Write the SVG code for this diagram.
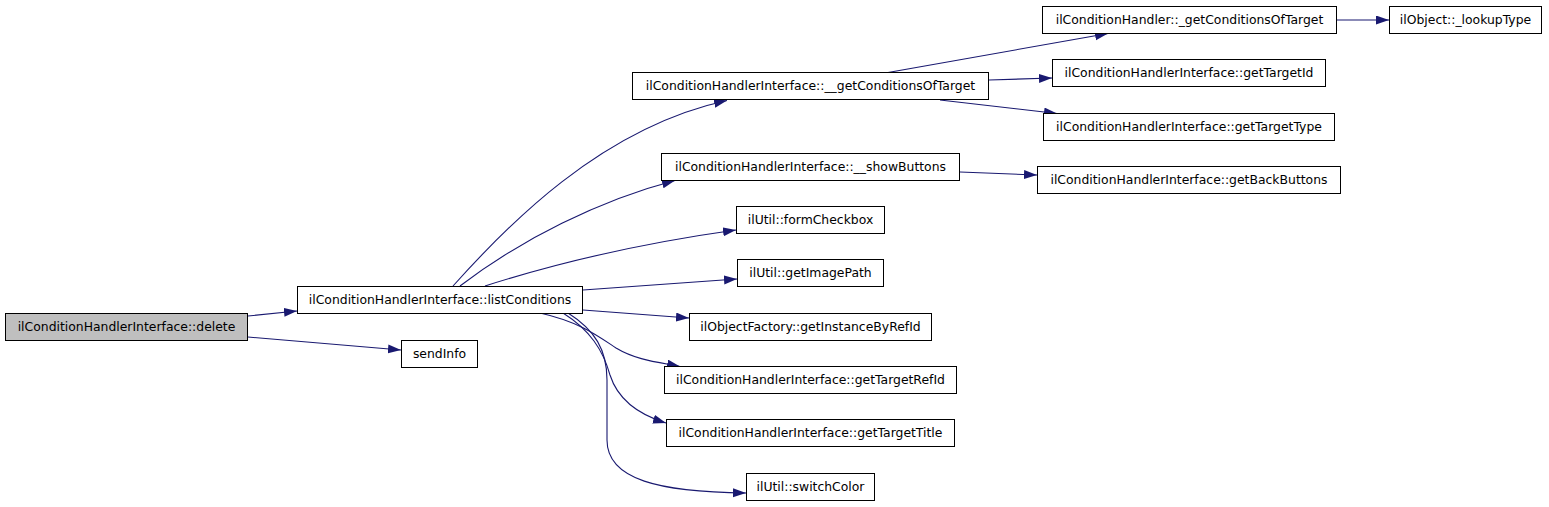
<svg xmlns="http://www.w3.org/2000/svg" width="1549" height="507" viewBox="0 0 1549 507">
<style>
.n rect{fill:#ffffff;stroke:#000000;stroke-width:1}
.n.root rect{fill:#bfbfbf}
.n text{font-family:"DejaVu Sans",sans-serif;font-size:12.4px;fill:#000000;text-anchor:middle}
#edges path{fill:none;stroke:#191970;stroke-width:1.1;marker-end:url(#arr)}
</style>
<defs>
<marker id="arr" markerUnits="userSpaceOnUse" markerWidth="14" markerHeight="10" refX="13" refY="4.5" orient="auto">
<path d="M0,0 L13,4.5 L0,9 z" fill="#191970"/>
</marker>
</defs>
<rect width="1549" height="507" fill="#ffffff"/>
<g id="edges">
<path d="M248,316 L297,311"/>
<path d="M248,337 L401,350"/>
<path d="M453,286 C505,228 600,128 727,100.5"/>
<path d="M460,286 C520,240 600,200 675,180.5"/>
<path d="M485,286 C560,262 650,242 736,230"/>
<path d="M583,290 L737,279"/>
<path d="M583,310 L689,318"/>
<path d="M540,313 C580,322 598,336 616,348 C636,360 657,362 680,366.5"/>
<path d="M563,313 C590,330 603,350 610,375 C618,400 640,415 666,423"/>
<path d="M568,313 C595,330 607,350 607,380 L607,440 C607,480 660,492 746,493"/>
<path d="M888,72.5 L1108,33.5"/>
<path d="M989,80 L1052,78"/>
<path d="M940,100 L1057,113.5"/>
<path d="M960,172 L1037,175"/>
<path d="M1337,20 L1389,20"/>
</g>
<g id="node-delete" class="n root"><rect x="5.5" y="313.5" width="242" height="27"/><text x="126.5" y="331">ilConditionHandlerInterface::delete</text></g>
<g id="node-listConditions" class="n"><rect x="297.5" y="286.5" width="285" height="27"/><text x="440" y="304">ilConditionHandlerInterface::listConditions</text></g>
<g id="node-sendInfo" class="n"><rect x="401.5" y="340.5" width="76" height="27"/><text x="439.5" y="358">sendInfo</text></g>
<g id="node-getConditionsOfTarget2" class="n"><rect x="632.5" y="72.5" width="356" height="27"/><text x="810.5" y="90">ilConditionHandlerInterface::__getConditionsOfTarget</text></g>
<g id="node-showButtons" class="n"><rect x="661.5" y="153.5" width="298" height="27"/><text x="810.5" y="171">ilConditionHandlerInterface::__showButtons</text></g>
<g id="node-formCheckbox" class="n"><rect x="736.5" y="206.5" width="148" height="27"/><text x="810.5" y="224">ilUtil::formCheckbox</text></g>
<g id="node-getImagePath" class="n"><rect x="737.5" y="259.5" width="146" height="27"/><text x="810.5" y="277">ilUtil::getImagePath</text></g>
<g id="node-getInstanceByRefId" class="n"><rect x="689.5" y="313.5" width="242" height="27"/><text x="810.5" y="331">ilObjectFactory::getInstanceByRefId</text></g>
<g id="node-getTargetRefId" class="n"><rect x="664.5" y="366.5" width="292" height="27"/><text x="810.5" y="384">ilConditionHandlerInterface::getTargetRefId</text></g>
<g id="node-getTargetTitle" class="n"><rect x="666.5" y="419.5" width="288" height="27"/><text x="810.5" y="437">ilConditionHandlerInterface::getTargetTitle</text></g>
<g id="node-switchColor" class="n"><rect x="746.5" y="473.5" width="128" height="27"/><text x="810.5" y="491">ilUtil::switchColor</text></g>
<g id="node-getConditionsOfTarget1" class="n"><rect x="1042.5" y="6.5" width="294" height="27"/><text x="1189.5" y="24">ilConditionHandler::_getConditionsOfTarget</text></g>
<g id="node-lookupType" class="n"><rect x="1389.5" y="6.5" width="152" height="27"/><text x="1465.5" y="24">ilObject::_lookupType</text></g>
<g id="node-getTargetId" class="n"><rect x="1052.5" y="59.5" width="273" height="27"/><text x="1189" y="77">ilConditionHandlerInterface::getTargetId</text></g>
<g id="node-getTargetType" class="n"><rect x="1043.5" y="113.5" width="291" height="27"/><text x="1189" y="131">ilConditionHandlerInterface::getTargetType</text></g>
<g id="node-getBackButtons" class="n"><rect x="1037.5" y="166.5" width="303" height="27"/><text x="1189" y="184">ilConditionHandlerInterface::getBackButtons</text></g>
</svg>
